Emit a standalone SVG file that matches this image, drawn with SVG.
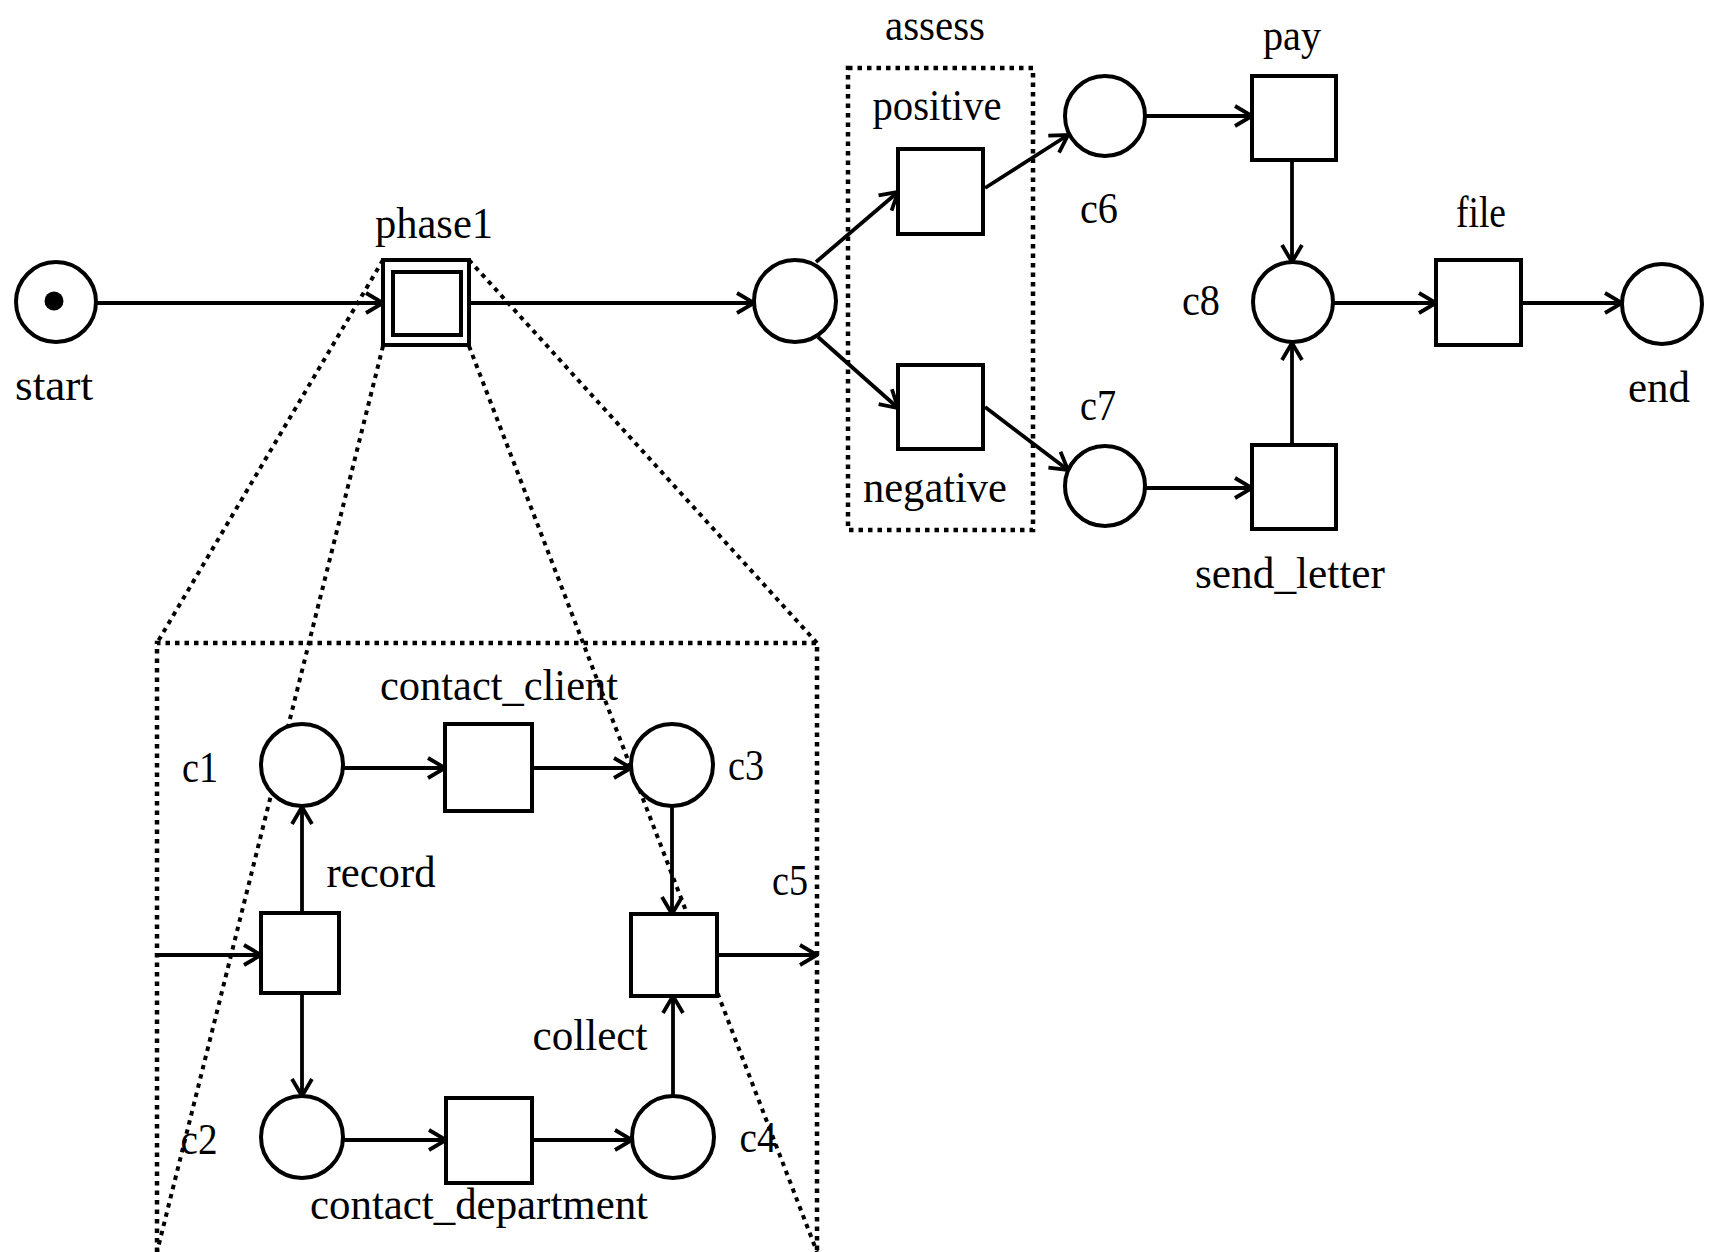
<svg xmlns="http://www.w3.org/2000/svg" width="1710" height="1252" viewBox="0 0 1710 1252">
<defs>
<style>
.pl{fill:#fff;stroke:#000;stroke-width:4}
.tr{fill:#fff;stroke:#000;stroke-width:4}
.arc{fill:none;stroke:#000;stroke-width:3.8;marker-end:url(#arr)}
.dot{fill:none;stroke:#000;stroke-width:4.5;stroke-dasharray:4.5 5}
.dl{fill:none;stroke:#000;stroke-width:4;stroke-dasharray:4.5 5}
text{font-family:"Liberation Serif","Times New Roman",serif;font-size:44px;fill:#000;text-anchor:middle}
</style>
<marker id="arr" viewBox="-20 -12 22 24" refX="0" refY="0" markerWidth="22" markerHeight="24" markerUnits="userSpaceOnUse" orient="auto">
<path d="M-17,-10 L0,0 L-17,10" fill="none" stroke="#000" stroke-width="3.8"/>
</marker>
</defs>
<rect width="1710" height="1252" fill="#fff"/>

<g id="zoom-frame">
<path class="dot" d="M157,1252 V643 H817 V1252"/>
<path class="dl" d="M383,260 L157,643"/>
<path class="dl" d="M469,260 L817,643"/>
<path class="dl" d="M383,346 L157,1252"/>
<path class="dl" d="M469,346 L817,1252"/>
</g>

<g id="assess-group">
<rect class="dot" x="848" y="68" width="185" height="462"/>
<text x="935" y="40" textLength="100" lengthAdjust="spacingAndGlyphs">assess</text>
</g>

<g id="connectors">
<path class="arc" d="M96,303 H383"/>
<path class="arc" d="M469,303 H754"/>
<path class="arc" d="M816,262 L898,192"/>
<path class="arc" d="M818,337 L898,408"/>
<path class="arc" d="M985,188 L1068,135"/>
<path class="arc" d="M985,407 L1068,470"/>
<path class="arc" d="M1145,116 H1252"/>
<path class="arc" d="M1145,488 H1252"/>
<path class="arc" d="M1292,160 V262"/>
<path class="arc" d="M1292,445 V343"/>
<path class="arc" d="M1333,303 H1436"/>
<path class="arc" d="M1521,303 H1622"/>
<path class="arc" d="M157,955 H261"/>
<path class="arc" d="M302,913 V807"/>
<path class="arc" d="M302,993 V1096"/>
<path class="arc" d="M343,768 H445"/>
<path class="arc" d="M532,768 H631"/>
<path class="arc" d="M672,806 V914"/>
<path class="arc" d="M343,1140 H446"/>
<path class="arc" d="M532,1140 H632"/>
<path class="arc" d="M673,1096 V996"/>
<path class="arc" d="M717,955 H817"/>
</g>

<g id="start"><circle class="pl" cx="56" cy="302" r="40"/><circle cx="54" cy="301" r="9.5" fill="#000"/><text x="54" y="400" textLength="78" lengthAdjust="spacingAndGlyphs">start</text></g>
<g id="phase1"><rect class="tr" x="383" y="260" width="86" height="85"/><rect class="tr" x="393" y="272" width="68" height="63"/><text x="434" y="238" textLength="118" lengthAdjust="spacingAndGlyphs">phase1</text></g>
<g id="p-assess"><circle class="pl" cx="795" cy="301" r="41"/></g>
<g id="positive"><rect class="tr" x="898" y="149" width="85" height="85"/><text x="937" y="120" textLength="129" lengthAdjust="spacingAndGlyphs">positive</text></g>
<g id="negative"><rect class="tr" x="898" y="365" width="85" height="84"/><text x="935" y="502" textLength="144" lengthAdjust="spacingAndGlyphs">negative</text></g>
<g id="c6"><circle class="pl" cx="1105" cy="116" r="40"/><text x="1099" y="223" textLength="38" lengthAdjust="spacingAndGlyphs">c6</text></g>
<g id="c7"><circle class="pl" cx="1105" cy="486" r="40"/><text x="1098" y="420" textLength="36" lengthAdjust="spacingAndGlyphs">c7</text></g>
<g id="pay"><rect class="tr" x="1252" y="76" width="84" height="84"/><text x="1292" y="50" textLength="58" lengthAdjust="spacingAndGlyphs">pay</text></g>
<g id="send_letter"><rect class="tr" x="1252" y="445" width="84" height="84"/><text x="1290" y="588" textLength="190" lengthAdjust="spacingAndGlyphs">send_letter</text></g>
<g id="c8"><circle class="pl" cx="1293" cy="302" r="40"/><text x="1201" y="315" textLength="38" lengthAdjust="spacingAndGlyphs">c8</text></g>
<g id="file"><rect class="tr" x="1436" y="260" width="85" height="85"/><text x="1481" y="227" textLength="50" lengthAdjust="spacingAndGlyphs">file</text></g>
<g id="end"><circle class="pl" cx="1662" cy="304" r="40"/><text x="1659" y="402" textLength="62" lengthAdjust="spacingAndGlyphs">end</text></g>

<g id="record"><rect class="tr" x="261" y="913" width="78" height="80"/><text x="381" y="887" textLength="109" lengthAdjust="spacingAndGlyphs">record</text></g>
<g id="c1"><circle class="pl" cx="302" cy="765" r="41"/><text x="200" y="782" textLength="36" lengthAdjust="spacingAndGlyphs">c1</text></g>
<g id="c2"><circle class="pl" cx="302" cy="1137" r="41"/><text x="199" y="1154" textLength="37" lengthAdjust="spacingAndGlyphs">c2</text></g>
<g id="contact_client"><rect class="tr" x="445" y="724" width="87" height="87"/><text x="499" y="700" textLength="238" lengthAdjust="spacingAndGlyphs">contact_client</text></g>
<g id="contact_department"><rect class="tr" x="446" y="1098" width="86" height="85"/><text x="479" y="1219" textLength="338" lengthAdjust="spacingAndGlyphs">contact_department</text></g>
<g id="c3"><circle class="pl" cx="672" cy="765" r="41"/><text x="746" y="780" textLength="36" lengthAdjust="spacingAndGlyphs">c3</text></g>
<g id="c4"><circle class="pl" cx="673" cy="1137" r="41"/><text x="758" y="1152" textLength="37" lengthAdjust="spacingAndGlyphs">c4</text></g>
<g id="collect"><rect class="tr" x="631" y="914" width="86" height="82"/><text x="590" y="1050" textLength="115" lengthAdjust="spacingAndGlyphs">collect</text></g>
<g id="c5"><text x="790" y="895" textLength="36" lengthAdjust="spacingAndGlyphs">c5</text></g>
</svg>
